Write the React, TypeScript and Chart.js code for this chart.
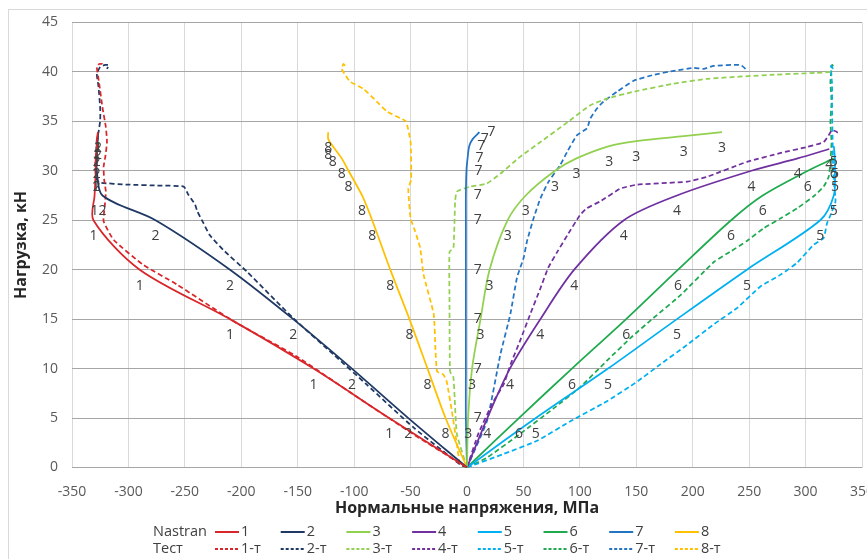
import { useEffect, useRef } from 'react';
import { Chart, registerables } from 'chart.js';
Chart.register(...registerables);

// ---------- Nastran (calculated) series: stress (MPa) vs load (kN) ----------
const n1Load = [0, 5, 10, 15, 20, 25, 27.5, 30, 31.25, 32.5, 33.2, 33.9];
const n1Stress = [0, -69, -136, -210, -290, -331, -330, -329, -329, -328, -328, -327];
const n2Load = [0, 5, 10, 15, 20, 25, 27.5, 30, 31.25, 32.5, 33.2, 33.9];
const n2Stress = [0, -52, -102, -154, -210, -276, -323, -328, -328, -328, -327, -327];
const n3Load = [0, 5, 10, 15, 20, 25, 27.5, 30, 31.25, 32.5, 33, 33.5, 33.9];
const n3Stress = [0, 1, 4.5, 12, 20, 36, 52, 78, 97, 126, 150, 192, 226];
const n4Load = [0, 5, 10, 15, 20, 25, 27.5, 30, 31.25, 32.2];
const n4Stress = [0, 18, 38, 65, 95, 139, 186, 252, 293, 321];
const n5Load = [0, 5, 10, 15, 20, 25, 27.5, 30, 31.25, 32.5];
const n5Stress = [0, 61, 125, 186, 248, 313, 325, 326, 326, 325];
const n6Load = [0, 5, 10, 15, 20, 25, 27.5, 30, 31.25];
const n6Stress = [0, 46, 93, 141, 187, 234, 262, 302, 325];
const n7Load = [0, 5, 10, 15, 20, 25, 27.5, 30, 31.25, 32.5, 33.2, 33.9];
const n7Stress = [0, -1, -1, -1, -1, -1, -1, -0.5, 0.5, 2, 5, 11];
const n8Load = [0, 5, 10, 15, 20, 25, 27.5, 30, 31.25, 32.5, 33.2, 33.9];
const n8Stress = [0, -19, -35, -51, -68, -84, -93, -105, -111, -119, -123, -123];

// ---------- Test (experimental) series ----------
const t1Stress = [0, -6, -48, -101, -152, -207, -257, -287, -313, -322, -321, -320, -321.5, -322, -320.5, -319, -320, -323, -326, -328, -326, -323, -322];
const t1Load = [0, 0.4, 3.4, 7.4, 11.3, 14.8, 18.5, 20.5, 23, 24.9, 26.4, 27.9, 29.1, 30.4, 31.4, 32.9, 34.4, 36.4, 38.9, 40.5, 40.8, 40.8, 40.5];
const t2Stress = [0, -6, -47, -89, -118, -154, -195, -216, -228, -233.5, -239, -241, -247, -251, -272, -301, -325, -328, -329.5, -328.5, -328, -326.5, -325, -325, -326.5, -328, -325, -320.5, -317.5, -319];
const t2Load = [0, 0.3, 4, 8.4, 11.4, 15.1, 19.8, 22, 23.5, 24.7, 25.9, 26.6, 27.6, 28.4, 28.5, 28.6, 28.8, 29.1, 30.4, 31.9, 33.1, 33.9, 35.1, 36.3, 38.5, 39.8, 40.5, 40.7, 40.7, 40.3];
const t3Stress = [0, -9, -12, -15, -15.5, -15.5, -12, -10.5, -9, 3, 17.5, 29.5, 47, 65, 89, 109, 124, 148, 183, 213, 269, 310, 324];
const t3Load = [0, 3.4, 9.1, 9.7, 16.8, 21.8, 22.2, 26.9, 27.9, 28.4, 28.7, 29.7, 31.4, 32.9, 34.9, 36.6, 37.3, 38, 38.8, 39.3, 39.7, 39.9, 40];
const t4Stress = [0, 10, 23.5, 32.5, 38.5, 47, 56, 65, 72, 80, 89, 100, 106, 118, 136, 151, 195, 213, 248, 278, 301, 316, 320.5, 323.5, 328, 326.5];
const t4Load = [0, 3.4, 6.7, 8.4, 10.4, 12.8, 15.5, 18.1, 20.2, 21.8, 23.5, 25.5, 26.2, 26.9, 28.2, 28.6, 28.9, 29.4, 30.9, 31.8, 32.4, 32.9, 33.6, 34.1, 33.9, 33.6];
const t5Stress = [0, 32, 62, 92, 124, 151, 171, 195, 219, 239, 260, 278, 292.5, 307, 316, 319, 322, 326.5, 325.5, 324.5, 324, 323.5, 323.5, 322.5, 325];
const t5Load = [0, 1.35, 2.7, 4.7, 6.7, 8.7, 10.4, 12.4, 14.5, 16.1, 18.3, 19.5, 20.7, 22.5, 23.2, 24.7, 25.5, 26.9, 28.4, 29.9, 32.9, 36, 38.7, 40.6, 40.2];
const t6Stress = [0, 17.7, 47, 77, 100, 124, 145, 165, 189, 219, 233, 248, 263, 278, 292.5, 307, 316, 320.5, 322, 323, 322, 323, 322, 323.5, 325.5];
const t6Load = [0, 1, 3.4, 6, 8.1, 10.8, 13.1, 15.1, 17.4, 20.8, 21.8, 22.9, 24.2, 25.2, 26.2, 27.4, 28.4, 29.4, 30.9, 32.9, 34.9, 37, 39, 40.7, 40.4];
const t7Stress = [0, 17.7, 29.5, 38.4, 44.3, 50.2, 53.2, 59, 65, 72.3, 82.7, 88.7, 97.5, 106.4, 109.3, 115.2, 121, 133, 147.7, 165.4, 183.2, 201, 209.7, 218.6, 242.3, 246.7, 247.6];
const t7Load = [0, 4.7, 11.4, 15.5, 19.2, 21.2, 22.9, 25.2, 27.2, 28.9, 30.6, 31.9, 33.6, 34.3, 35.3, 36.3, 37, 38, 39.1, 39.7, 40.1, 40.4, 40.3, 40.6, 40.7, 40.3, 40];
const t8Stress = [0, -6, -9, -13, -18, -21, -26.5, -28, -29.5, -38.5, -41.5, -46, -50, -52, -49.5, -50, -54, -59, -71, -80, -92, -103.5, -108, -111, -109.5, -108];
const t8Load = [0, 0.3, 2.4, 5.4, 8.7, 9.4, 9.7, 12.1, 15.5, 19.5, 22.2, 23.9, 25.2, 28.2, 29.1, 32.9, 35, 35.3, 36, 37, 38.3, 39, 39.7, 40.3, 40.8, 40.6];

const nastranNames = ['1', '2', '3', '4', '5', '6', '7', '8'];
const testNames = ['1-т', '2-т', '3-т', '4-т', '5-т', '6-т', '7-т', '8-т'];
const xTitle = 'Нормальные напряжения, МПа';
const yTitle = 'Нагрузка, кН';
const rowNastran = 'Nastran';
const rowTest = 'Тест';

const nastranSeries = [
  [n1Stress, n1Load], [n2Stress, n2Load], [n3Stress, n3Load], [n4Stress, n4Load],
  [n5Stress, n5Load], [n6Stress, n6Load], [n7Stress, n7Load], [n8Stress, n8Load],
];
const testSeries = [
  [t1Stress, t1Load], [t2Stress, t2Load], [t3Stress, t3Load], [t4Stress, t4Load],
  [t5Stress, t5Load], [t6Stress, t6Load], [t7Stress, t7Load], [t8Stress, t8Load],
];

const COLORS = ['#D9262B', '#1F3864', '#92D050', '#7030A0', '#00B0F0', '#1FAA4F', '#2474C4', '#FFC000'];
const FONT = '"Open Sans", "Noto Sans", sans-serif';
const DASH = [5, 3];

const zip = (xs: number[], ys: number[]) => xs.map((x, i) => ({ x, y: ys[i] }));

const labelPlugin = {
  id: 'pointLabels',
  afterDatasetsDraw(chart: any) {
    const ctx = chart.ctx;
    ctx.save();
    ctx.font = `14px ${FONT}`;
    ctx.fillStyle = '#404040';
    ctx.textAlign = 'center';
    ctx.textBaseline = 'middle';
    for (let i = 0; i < 8; i++) {
      const meta = chart.getDatasetMeta(i);
      const right = i === 6;
      meta.data.forEach((pt: any, j: number) => {
        if (j === 0) return;
        const dx = right ? 12 : 0;
        const dy = right ? 0 : 16;
        ctx.fillText(nastranNames[i], pt.x + dx, pt.y + dy);
      });
    }
    ctx.restore();
  },
};

const legendPlugin = {
  id: 'rowLegend',
  afterDraw(chart: any) {
    const ctx = chart.ctx;
    ctx.save();
    ctx.font = `14.5px ${FONT}`;
    ctx.fillStyle = '#404040';
    ctx.textBaseline = 'middle';
    ctx.textAlign = 'left';
    const rows = [
      { title: rowNastran, names: nastranNames, y: 532, dash: [] as number[] },
      { title: rowTest, names: testNames, y: 549, dash: [3, 2] },
    ];
    const x0 = 215;
    const step = 65.7;
    rows.forEach((r) => {
      ctx.fillStyle = '#404040';
      ctx.fillText(r.title, 153, r.y);
      r.names.forEach((n, i) => {
        const x = x0 + i * step;
        ctx.strokeStyle = COLORS[i];
        ctx.lineWidth = 2;
        ctx.setLineDash(r.dash);
        ctx.beginPath();
        ctx.moveTo(x, r.y);
        ctx.lineTo(x + 24, r.y);
        ctx.stroke();
        ctx.setLineDash([]);
        ctx.fillStyle = '#404040';
        ctx.fillText(n, x + 26, r.y);
      });
    });
    ctx.restore();
  },
};

export default function App() {
  const ref = useRef<HTMLCanvasElement>(null);
  useEffect(() => {
    if (!ref.current) return;
    const datasets: any[] = [];
    nastranSeries.forEach(([s, l], i) => {
      datasets.push({
        label: nastranNames[i],
        data: zip(s, l),
        borderColor: COLORS[i],
        backgroundColor: COLORS[i],
        borderWidth: 1.75,
        pointRadius: 0,
        showLine: true,
        tension: 0.3,
        fill: false,
      });
    });
    testSeries.forEach(([s, l], i) => {
      datasets.push({
        label: testNames[i],
        data: zip(s, l),
        borderColor: COLORS[i],
        backgroundColor: COLORS[i],
        borderWidth: 1.75,
        borderDash: DASH,
        pointRadius: 0,
        showLine: true,
        tension: 0.15,
        fill: false,
      });
    });
    const chart = new Chart(ref.current, {
      type: 'scatter',
      data: { datasets },
      options: {
        animation: false,
        responsive: false,
        layout: { padding: { left: 0, top: 21, right: 38, bottom: 51.5 } },
        plugins: { legend: { display: false }, tooltip: { enabled: false } },
        scales: {
          x: {
            type: 'linear',
            min: -350,
            max: 350,
            ticks: { stepSize: 50, color: '#595959', font: { family: FONT, size: 14 }, padding: 16, maxRotation: 0 },
            grid: { color: '#d9d9d9', drawTicks: false },
            border: { display: false },
            title: { display: true, text: xTitle, color: '#262626', font: { family: FONT, size: 16, weight: 'bold' }, padding: { top: 0, bottom: 0 } },
            afterFit: (s: any) => { s.height = 51; },
          },
          y: {
            type: 'linear',
            min: 0,
            max: 45,
            ticks: { stepSize: 5, color: '#595959', font: { family: FONT, size: 14 }, padding: 14 },
            grid: { color: '#a6a6a6', drawTicks: false },
            border: { display: false },
            title: { display: true, text: yTitle, color: '#262626', font: { family: FONT, size: 16, weight: 'bold' }, padding: { top: 12, bottom: 0 } },
            afterFit: (s: any) => { s.width = 72; },
          },
        },
      } as any,
      plugins: [labelPlugin, legendPlugin],
    });
    return () => chart.destroy();
  }, []);
  return (
    <div style={{ position: 'absolute', left: 0, top: 0, width: 867, height: 559, overflow: 'hidden', background: '#fff' }}>
      <div style={{ position: 'absolute', left: 8, top: 9, width: 900, height: 600, border: '1px solid #d9d9d9' }} />
      <canvas ref={ref} width={900} height={570} style={{ position: 'absolute', left: 0, top: 0 }} />
    </div>
  );
}
